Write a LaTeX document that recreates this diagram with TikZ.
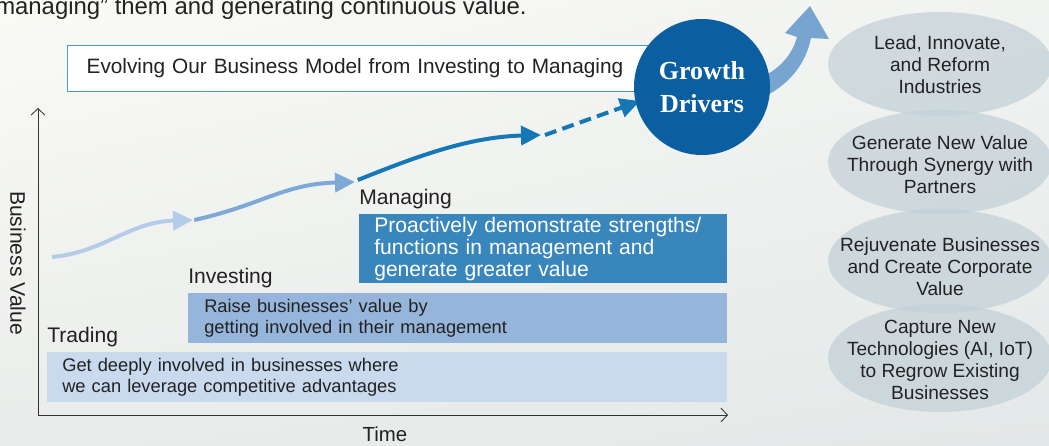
\documentclass[tikz,border=0pt]{standalone}
\usepackage{fontspec}
\setmainfont{Liberation Sans}
\newfontfamily\drvfont{Liberation Serif}
\usetikzlibrary{arrows.meta, positioning, shapes.geometric, shadings}

\definecolor{bgtl}{HTML}{FBFBF6}
\definecolor{bgtr}{HTML}{F1F3F1}
\definecolor{bgbl}{HTML}{E9ECEA}
\definecolor{bgbr}{HTML}{E3E8E8}
\definecolor{ink}{HTML}{222222}
\definecolor{axisgray}{HTML}{333333}
\definecolor{tradefill}{HTML}{C9D9EE}
\definecolor{investfill}{HTML}{95B5DA}
\definecolor{managefill}{HTML}{3886BC}
\definecolor{flowA}{HTML}{B4CCE8}
\definecolor{flowB}{HTML}{7EA8D5}
\definecolor{flowC}{HTML}{1577B5}
\definecolor{titleline}{HTML}{4E98D0}
\definecolor{drvblue}{HTML}{0B5E9F}
\definecolor{upblue}{HTML}{78A5D0}
\definecolor{goalfill}{HTML}{C4D1D8}

\begin{document}
\begin{tikzpicture}[x=0.25mm, y=-0.25mm,
        stagebox/.style={anchor=north west, inner ysep=0pt, align=left,
                         font=\fontsize{13}{15.6}\selectfont, text=ink},
        stagelbl/.style={inner sep=0pt, font=\fontsize{15}{18}\selectfont, text=ink},
        goal/.style={ellipse, fill=goalfill, fill opacity=0.75,
                     minimum width=56mm, minimum height=26mm, inner sep=0pt},
        goaltext/.style={align=center, text=ink,
                         font=\fontsize{13.6}{15.6}\selectfont},
        flow/.style={line width=1mm, -{Triangle[length=5mm, width=4.75mm]}},
        axis/.style={draw=axisgray, line width=0.6pt,
                     -{Straight Barb[length=1.6mm, width=3.4mm]}},
        >=Stealth
    ]
        \useasboundingbox (0,0) rectangle (1049,445);
        \shade[upper left=bgtl, upper right=bgtr, lower left=bgbl, lower right=bgbr]
            (0,0) rectangle (1049,445);

        % end of the sentence above the chart
        \node[anchor=base east, inner sep=0pt, text=ink,
              font=\fontsize{17}{20}\selectfont] (lead) at (527,14)
            {“managing” them and generating continuous value.};

        % axes
        \coordinate (origin) at (38,415);
        \coordinate (ytop) at (38,108);
        \coordinate (xend) at (728,415);
        \draw[axis] (origin) -- (ytop);
        \draw[axis] (origin) -- (xend);
        \node[rotate=-90, font=\fontsize{15}{18}\selectfont, text=ink] (yname) at (18,263) {Business Value};
        \node[font=\fontsize{14.5}{17}\selectfont, text=ink] (xname) at (385,434) {Time};

        % three stages
        \node[stagebox, fill=tradefill, inner xsep=3.75mm, text width=162.5mm,
              minimum height=12.5mm] (trade) at (47,352)
            {Get deeply involved in businesses where\\we can leverage competitive advantages};
        \node[stagebox, fill=investfill, inner xsep=4mm, text width=126.75mm,
              minimum height=12.5mm] (invest) at (188,293)
            {Raise businesses’ value by\\getting involved in their management};
        \node[stagebox, fill=managefill, inner xsep=3.75mm, text width=84.5mm,
              minimum height=17.25mm, text=white,
              font=\fontsize{15}{15.8}\selectfont] (manage) at (359,214)
            {Proactively demonstrate strengths/\\functions in management and\\generate greater value};

        \node[stagelbl, above right=1.1mm and 0mm of trade.north west] (tradelbl) {Trading};
        \node[stagelbl, above right=1.1mm and 0mm of invest.north west] (investlbl) {Investing};
        \node[stagelbl, above right=1.1mm and 0mm of manage.north west] (managelbl) {Managing};

        % growth path
        \coordinate (g0) at (52,257);
        \coordinate (g1) at (193,220);
        \coordinate (g2) at (355,182);
        \coordinate (g3) at (541,135);
        \coordinate (g4) at (640,101);
        \draw[flow, flowA] (g0) .. controls (105,252) and (128,222) .. (g1);
        \draw[flow, flowB] ([xshift=0.3mm]g1) .. controls (262,205) and (283,184) .. (g2);
        \draw[flow, flowC] ([xshift=0.7mm,yshift=0.5mm]g2) .. controls (420,155) and (470,137) .. (g3);
        \draw[flow, flowC, dash pattern=on 3mm off 1.6mm] ([xshift=1mm]g3) -- (g4);

        % heading
        \node[draw=titleline, line width=0.6pt, fill=white, anchor=north west,
              minimum width=145.25mm, minimum height=11.5mm, inner xsep=4.8mm,
              text width=135.65mm, align=left, text=ink,
              font=\fontsize{14.8}{18}\selectfont] (heading) at (67,45)
            {Evolving Our Business Model from Investing to Managing};

        % arrow rising out of the circle
        \fill[upblue] (760,78) .. controls (778,70) and (792,56) .. (797,37)
            -- (785,33) -- (810,6) -- (829,39) -- (811,38)
            .. controls (806,62) and (792,82) .. (766,96) -- cycle;

        \node[circle, fill=drvblue, minimum size=34mm, inner sep=0pt, align=center,
              text=white, font=\drvfont\bfseries\fontsize{18.5}{23}\selectfont] (drv) at (702,87)
            {Growth\\Drivers};

        % goals
        \node[goal] (goal1) at (940,64) {};
        \node[goal] (goal2) at (940,162) {};
        \node[goal] (goal3) at (940,261) {};
        \node[goal, minimum height=27mm] (goal4) at (940,358) {};
        \node[goaltext] (goal1t) at (940,65) {Lead, Innovate,\\and Reform\\Industries};
        \node[goaltext] (goal2t) at (940,165) {Generate New Value\\Through Synergy with\\Partners};
        \node[goaltext] (goal3t) at (940,267) {Rejuvenate Businesses\\and Create Corporate\\Value};
        \node[goaltext] (goal4t) at (940,360) {Capture New\\Technologies (AI, IoT)\\to Regrow Existing\\Businesses};
    \end{tikzpicture}
\end{document}
